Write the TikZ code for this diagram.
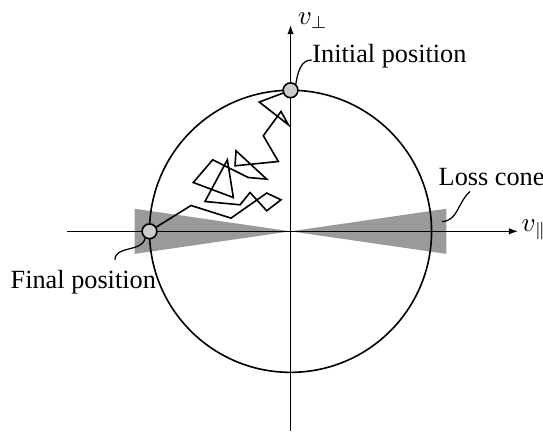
\documentclass[tikz,border=0pt]{standalone}
\usepackage{fontspec}
\setmainfont{Liberation Serif}
\usetikzlibrary{arrows.meta, calc}
\definecolor{coneGray}{HTML}{9A9A9A}
\definecolor{dotGray}{HTML}{CCCCCC}

\begin{document}
\begin{tikzpicture}[font=\fontsize{10.6}{12.6}\selectfont, line width=0.65pt,
    axisArrow/.style={-{Latex[length=3.8pt,width=2.6pt]}},
    dot/.style={circle, draw, fill=dotGray, inner sep=0pt, minimum size=0.21cm}]
    \useasboundingbox (-4.12,-2.86) rectangle (3.58,3.28);
    % loss cone
    \fill[coneGray] (0,0) -- (-2.21,0.32) -- (-2.21,-0.32) -- cycle;
    \fill[coneGray] (0,0) -- (2.21,0.32) -- (2.21,-0.32) -- cycle;
    \draw[axisArrow] (-3.17,0) -- (3.23,0)
        node[anchor=base west, inner sep=1pt] (vpar) {$v_\parallel$};
    \draw[axisArrow] (0,-2.83) -- (0,2.93)
        node[anchor=south west, inner sep=0pt, xshift=2.6pt, yshift=-2pt] (vperp) {$v_\perp$};
    \draw (0,0) circle (2);
    \node[dot] (init) at (0,2) {};
    \node[dot] (final) at (-2,0) {};
    % random walk
    \draw (init) -- (-0.443,1.833) -- (-0.031,1.511) -- (-0.135,1.699)
        -- (-0.386,1.355) -- (-0.173,0.990) -- (-0.787,0.929) -- (-0.773,1.142)
        -- (-0.338,0.740) -- (-0.599,0.763) -- (-1.104,1.014) -- (-1.379,0.692)
        -- (-0.811,0.479) -- (-0.896,1.014) -- (-1.213,0.423) -- (-0.716,0.376)
        -- (-0.574,0.550) -- (-0.338,0.291) -- (-0.135,0.447) -- (-0.338,0.542)
        -- (-0.844,0.187) -- (-1.411,0.366) -- (final);
    % labels
    \node[anchor=base west, inner sep=0pt] (initText) at (0.30,2.39) {Initial position};
    \node[anchor=base west, inner sep=0pt] (finalText) at (-3.98,-0.806) {Final position};
    \node[anchor=base west, inner sep=0pt] (lossText) at (2.09,0.645) {Loss cone};
    \coordinate (initEnd) at ($(initText.base west)+(0,0.04)$);
    \coordinate (finalEnd) at (-2.49,-0.404);
    \coordinate (lossStart) at (2.145,0.139);
    \coordinate (lossEnd) at (2.546,0.565);
    \draw[line width=0.5pt] (init.50) to[out=80, in=180] (initEnd);
    \draw[line width=0.5pt] (final.237) to[out=-100, in=90] (finalEnd);
    \draw[line width=0.5pt] (lossStart) to[out=0, in=-140] (lossEnd);
\end{tikzpicture}
\end{document}
